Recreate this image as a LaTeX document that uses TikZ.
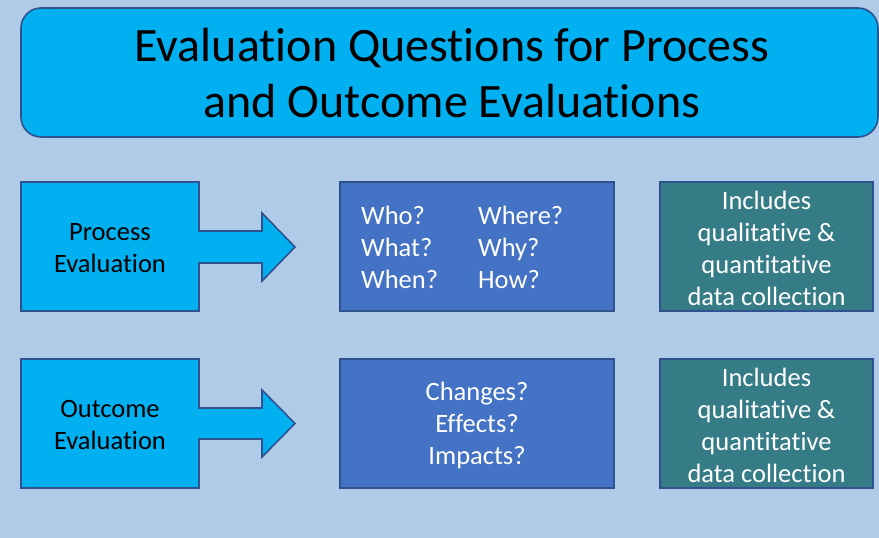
\documentclass[tikz,border=0pt]{standalone}
\usepackage{fontspec}
\setmainfont{Carlito}[Ligatures=NoCommon]
\begin{document}
\definecolor{pagebg}{HTML}{AFCBE8}
\definecolor{cyanfill}{HTML}{00B0F0}
\definecolor{bluefill}{HTML}{4472C4}
\definecolor{tealfill}{HTML}{367C87}
\definecolor{edge}{HTML}{2F528F}
\begin{tikzpicture}[x=1pt,y=-1pt,
  frame/.style={draw=edge,line width=1.6pt,line join=miter},
  boxtext/.style={font=\fontsize{26.5}{32}\selectfont,align=center,inner sep=0pt},
  wtext/.style={boxtext,text=white},
  qtext/.style={font=\fontsize{26.5}{32}\selectfont,text=white,anchor=base west,inner sep=0pt},
  ttext/.style={font=\fontsize{48}{57}\selectfont,anchor=base,inner sep=0pt}]
\fill[pagebg] (0,0) rectangle (879,538);
\useasboundingbox (0,0) rectangle (879,538);

% title banner
\draw[frame,fill=cyanfill,rounded corners=20pt] (21,8) rectangle (878,137);
\node[ttext] (titleA) at (452,61) {Evaluation Questions for Process};
\node[ttext] (titleB) at (452,117) {and Outcome Evaluations};

% process row
\draw[frame,fill=cyanfill] (21,182) -- (199,182) -- (199,231) -- (262,231) -- (262,213)
  -- (295,247) -- (262,281) -- (262,263) -- (199,263) -- (199,311) -- (21,311) -- cycle;
\node[boxtext] (proc) at (110,248) {Process\\Evaluation};
\draw[frame,fill=bluefill] (340,182) rectangle (614,311);
\node[qtext] (who) at (361,224) {Who?};
\node[qtext] (what) at (361,256) {What?};
\node[qtext] (when) at (361,288) {When?};
\node[qtext] (where) at (478,224) {Where?};
\node[qtext] (why) at (478,256) {Why?};
\node[qtext] (how) at (478,288) {How?};
\draw[frame,fill=tealfill] (660,182) rectangle (873,311);
\node[wtext] (incA) at (766.5,248) {Includes\\qualitative \&\\quantitative\\data collection};

% outcome row
\draw[frame,fill=cyanfill] (21,359) -- (199,359) -- (199,408) -- (262,408) -- (262,390)
  -- (295,423.5) -- (262,457) -- (262,439) -- (199,439) -- (199,488) -- (21,488) -- cycle;
\node[boxtext] (outc) at (110,425) {Outcome\\Evaluation};
\draw[frame,fill=bluefill] (340,359) rectangle (614,488);
\node[wtext] (chg) at (477,425) {Changes?\\Effects?\\Impacts?};
\draw[frame,fill=tealfill] (660,359) rectangle (873,488);
\node[wtext] (incB) at (766.5,425) {Includes\\qualitative \&\\quantitative\\data collection};
\end{tikzpicture}
\end{document}
